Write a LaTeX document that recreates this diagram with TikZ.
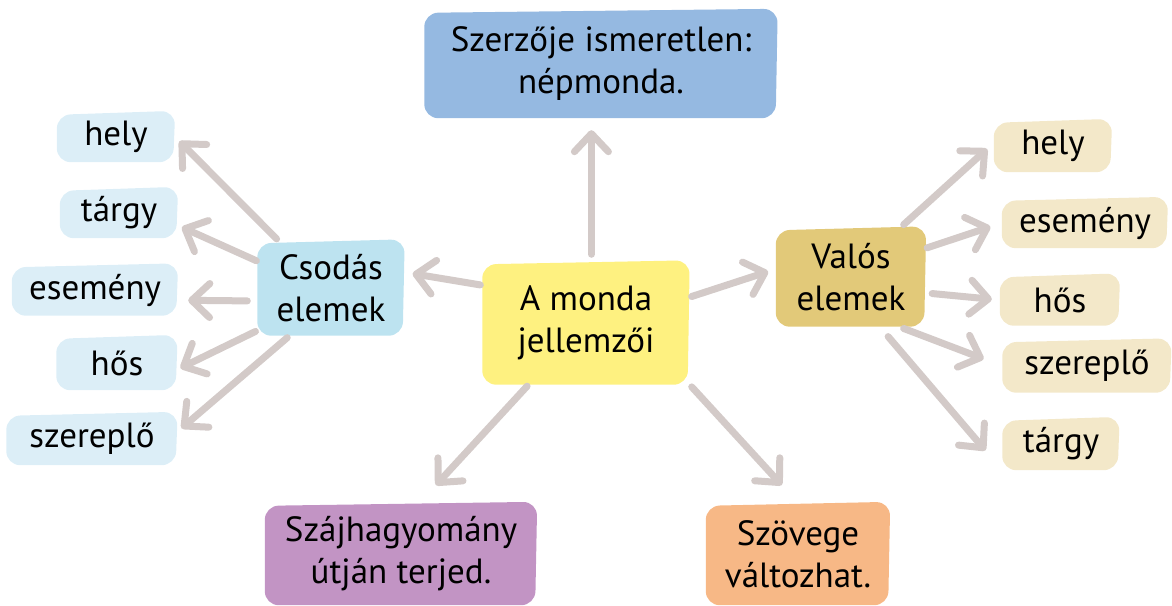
\documentclass[tikz,border=0pt]{standalone}
\usepackage{fontspec}
\setmainfont{PT Sans}
\usetikzlibrary{arrows.meta,backgrounds}

\definecolor{topblue}{HTML}{95B9E1}
\definecolor{midyellow}{HTML}{FEF180}
\definecolor{wonderblue}{HTML}{BDE3F0}
\definecolor{wonderpale}{HTML}{DCEEF7}
\definecolor{realgold}{HTML}{E2C979}
\definecolor{realpale}{HTML}{F3E8C9}
\definecolor{oralpurple}{HTML}{C294C4}
\definecolor{textorange}{HTML}{F7B886}
\definecolor{linkgray}{HTML}{D3CAC8}

\tikzset{
  bubble/.style={inner sep=0pt, align=center, font=\fontsize{35}{42}\selectfont},
  sized/.style 2 args={minimum width=#1pt, minimum height=#2pt},
  link/.style={draw=linkgray, line width=7pt, line cap=round,
    -{Straight Barb[length=18pt,width=34pt,round]}},
}

\begin{document}
\begin{tikzpicture}[x=1pt,y=-1pt]
  \useasboundingbox (0,0) rectangle (1172,605);

  % main bubbles
  \node[bubble, sized={353}{108}] (top) at (601,64) {Szerzője ismeretlen:\\népmonda.};
  \node[bubble, sized={207}{123}] (mid) at (586,323) {A monda\\jellemzői};
  \node[bubble, sized={147}{95}] (csod) at (331,288) {Csodás\\elemek};
  \node[bubble, sized={150}{99}] (valos) at (851,277) {Valós\\elemek};
  \node[bubble, sized={272}{102}] (sz) at (401,554) {Szájhagyomány\\útján terjed.};
  \node[bubble, sized={184}{102}] (szov) at (798,554) {Szövege\\változhat.};

  % left leaves
  \node[bubble, sized={118}{50}] (lhely) at (116,137) {hely};
  \node[bubble, sized={118}{50}] (ltargy) at (119,213) {tárgy};
  \node[bubble, sized={166}{51}] (lesem) at (95,290) {esemény};
  \node[bubble, sized={121}{54}] (lhos) at (117,363) {hős};
  \node[bubble, sized={171}{52}] (lszer) at (92,439) {szereplő};

  % right leaves
  \node[bubble, sized={118}{52}] (rhely) at (1053,146) {hely};
  \node[bubble, sized={166}{50}] (resem) at (1085,223) {esemény};
  \node[bubble, sized={120}{51}] (rhos) at (1060,300) {hős};
  \node[bubble, sized={169}{53}] (rszer) at (1087,366) {szereplő};
  \node[bubble, sized={117}{52}] (rtargy) at (1061,444) {tárgy};

  \begin{scope}[on background layer]
    \foreach \n/\c in {top/topblue, mid/midyellow, csod/wonderblue, valos/realgold,
        sz/oralpurple, szov/textorange,
        lhely/wonderpale, ltargy/wonderpale, lesem/wonderpale, lhos/wonderpale, lszer/wonderpale,
        rhely/realpale, resem/realpale, rhos/realpale, rszer/realpale, rtargy/realpale}
      \fill[\c, rounded corners=14pt] ([yshift=-3pt]\n.north west) -- ([yshift=1pt]\n.north east)
        -- ([xshift=-2pt]\n.south east) -- (\n.south west) -- cycle;
  \end{scope}

  % arrows
  \draw[link, shorten <=7pt, shorten >=12pt] (mid.85) -- (mid.85 |- top.south);
  \foreach \a/\b/\t/\s in {mid.160/csod.12/2/8, mid.14/valos.174/2/8,
      mid.227/sz.70/2/24, mid.south east/szov.north/3/24,
      csod.138/lhely.east/2/6, csod.160/ltargy.-12/1/4, csod.190/lesem.-7/10/10,
      csod.210/lhos.-6/2/3, csod.229/lszer.5/3/5,
      valos.45/rhely.177/4/9, valos.21/resem.west/1/12, valos.-12/rhos.west/6/8,
      valos.-46/rszer.west/5/20, valos.-60/rtargy.south west/13/26}
    \draw[link, shorten <=\t pt, shorten >=\s pt] (\a) -- (\b);
\end{tikzpicture}
\end{document}
